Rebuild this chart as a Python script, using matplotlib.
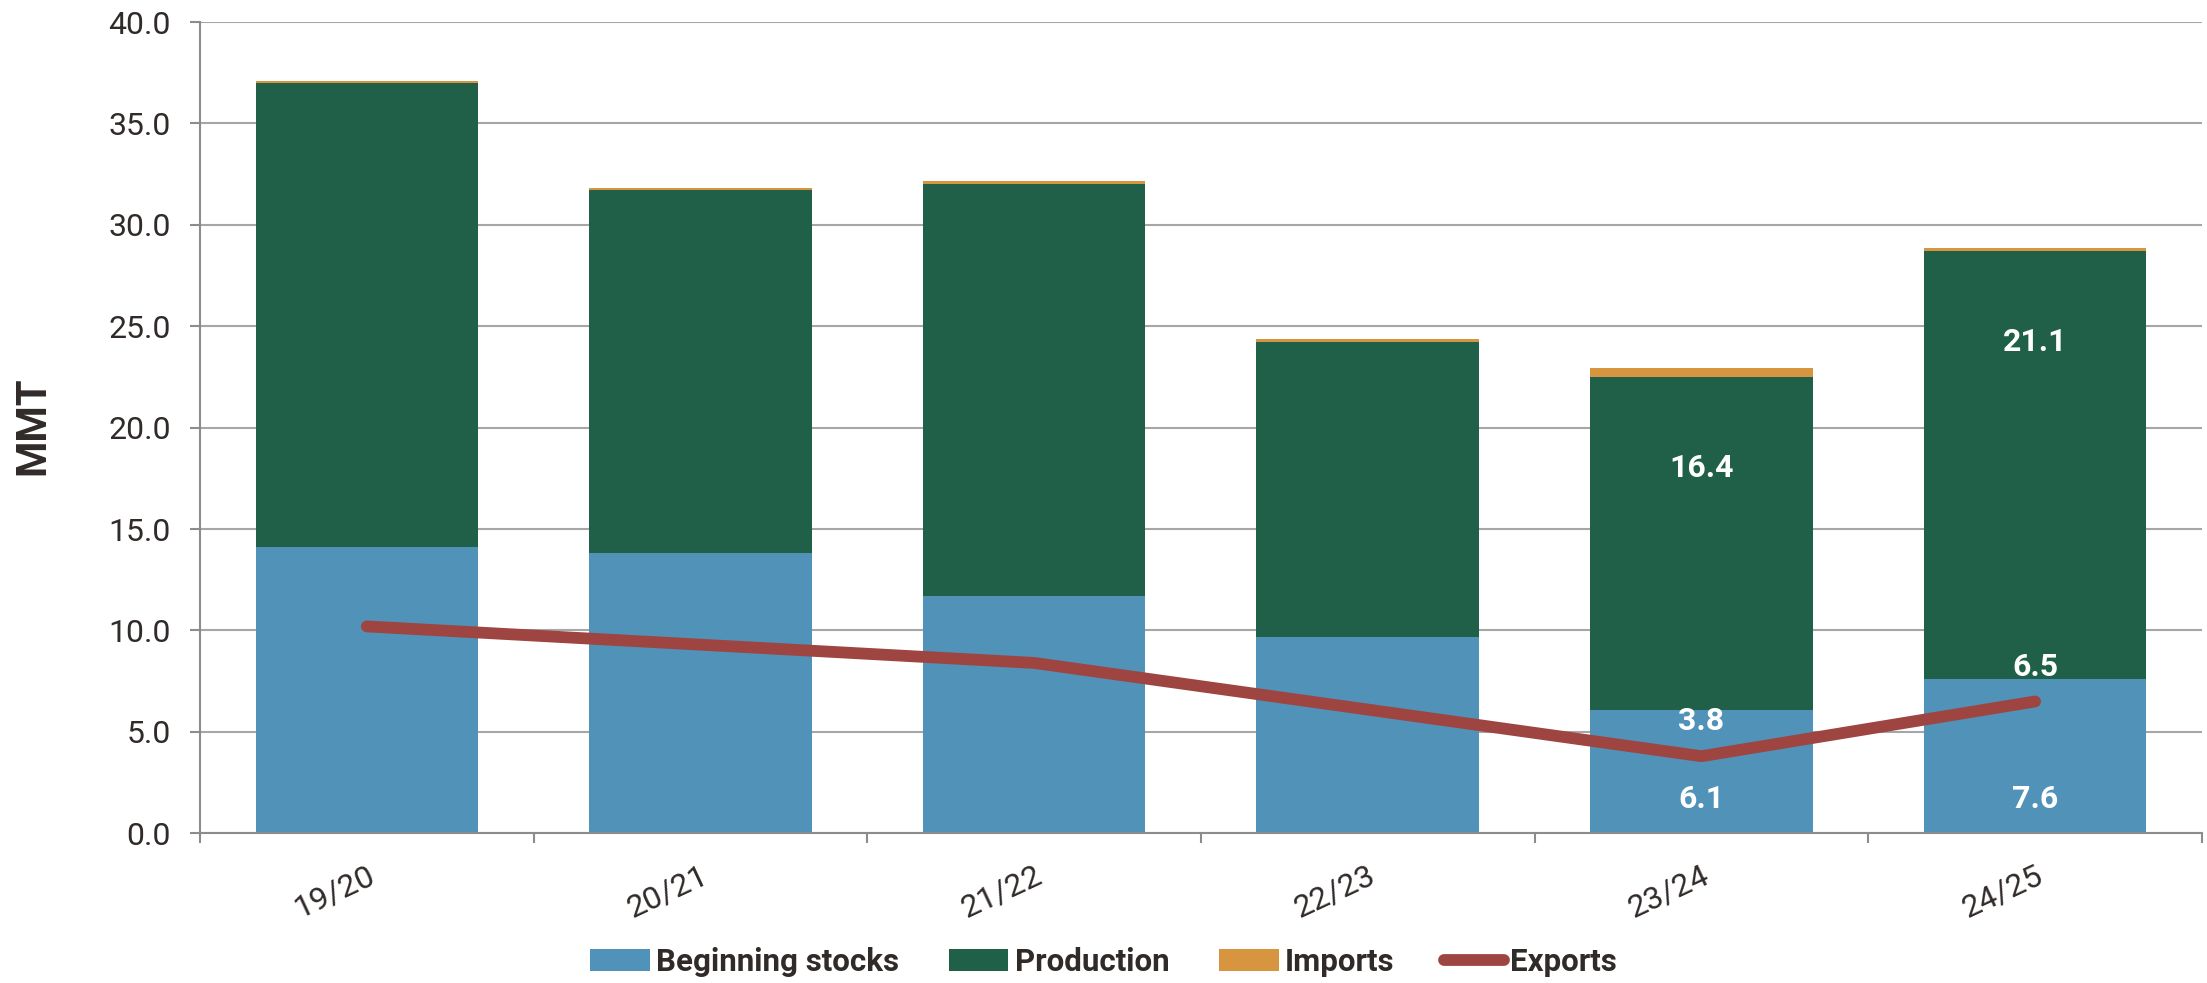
import numpy as np
import matplotlib
matplotlib.use("Agg")
import matplotlib.pyplot as plt
from matplotlib.ticker import FixedLocator, FormatStrFormatter

# chart data (MMT)
years = ["19/20", "20/21", "21/22", "22/23", "23/24", "24/25"]
beginning_stocks = [14.1, 13.8, 11.7, 9.7, 6.1, 7.6]
production = [22.9, 17.9, 20.3, 14.5, 16.4, 21.1]
imports = [0.1, 0.13, 0.15, 0.15, 0.45, 0.15]
exports = [10.2, 9.3, 8.4, 6.1, 3.8, 6.5]

# which values carry a data label
label_stocks = [False, False, False, False, True, True]
label_prod = [False, False, False, False, True, True]
label_exports = [False, False, False, False, True, True]

c_stocks = "#5192B8"
c_prod = "#206048"
c_imports = "#D79540"
c_exports = "#9E4542"
c_text = "#302A28"
c_grid = "#A6A6A6"
c_axis = "#8C8C8C"

font = ["Roboto", "DejaVu Sans"]
plt.rcParams["font.family"] = font

fig = plt.figure(figsize=(22.07, 9.83), dpi=100)
ax = fig.add_axes([0.0906, 0.1523, 0.9071, 0.8253])

x = np.arange(len(years))
w = 0.667
stocks = np.array(beginning_stocks)
prod = np.array(production)
imp = np.array(imports)

b1 = ax.bar(x, stocks, w, color=c_stocks, label="Beginning stocks", zorder=2)
b2 = ax.bar(x, prod, w, bottom=stocks, color=c_prod, label="Production", zorder=2)
b3 = ax.bar(x, imp, w, bottom=stocks + prod, color=c_imports, label="Imports", zorder=2)
l1, = ax.plot(x, exports, color=c_exports, lw=8.5, solid_capstyle="round",
              solid_joinstyle="round", label="Exports", zorder=3)

## data labels
lab_kw = dict(color="white", fontsize=23, fontweight="bold", ha="center", zorder=4)
for i in range(len(years)):
    if label_stocks[i]:
        ax.annotate(f"{beginning_stocks[i]:.1f}", (x[i], 0), xytext=(0, 14),
                    textcoords="offset points", va="bottom", **lab_kw)
    if label_prod[i]:
        ax.text(x[i], stocks[i] + prod[i] - 4.5, f"{production[i]:.1f}", va="center", **lab_kw)
    if label_exports[i]:
        ax.annotate(f"{exports[i]:.1f}", (x[i], exports[i]), xytext=(0, 25),
                    textcoords="offset points", va="center", **lab_kw)

ax.set_xlim(-0.5, len(years) - 0.5)
ax.set_ylim(0, 40)
ax.set_yticks(np.arange(0, 40.1, 5))
ax.yaxis.set_major_formatter(FormatStrFormatter("%.1f"))
ax.grid(axis="y", color=c_grid, lw=1.5, zorder=0)
ax.set_axisbelow(True)

ax.set_xticks(x)
ax.set_xticklabels(years, rotation=25, ha="right", rotation_mode="anchor")
ax.xaxis.set_minor_locator(FixedLocator(np.arange(-0.5, len(years), 1.0)))
ax.tick_params(axis="x", which="major", length=0, pad=20, labelsize=23, labelcolor=c_text)
ax.tick_params(axis="x", which="minor", length=7, width=1.5, color=c_axis)
ax.tick_params(axis="y", length=7, width=1.5, color=c_axis, pad=14, labelsize=23, labelcolor=c_text)

for s in ["top", "right"]:
    ax.spines[s].set_visible(False)
for s in ["left", "bottom"]:
    ax.spines[s].set_color(c_axis)
    ax.spines[s].set_linewidth(1.5)

fig.text(0.015, 1 - 426 / 983, "MMT", rotation=90, fontsize=30, fontweight="bold",
         color=c_text, ha="center", va="center")

fig.legend([b1, b2, b3, l1], ["Beginning stocks", "Production", "Imports", "Exports"],
           loc="center", bbox_to_anchor=(0.5, 0.0214), ncol=4, frameon=False,
           prop={"weight": "bold", "size": 22.5}, labelcolor=c_text,
           handlelength=1.9, handleheight=0.7, handletextpad=0.2, columnspacing=1.6)

fig.savefig("out.png", dpi=100)
